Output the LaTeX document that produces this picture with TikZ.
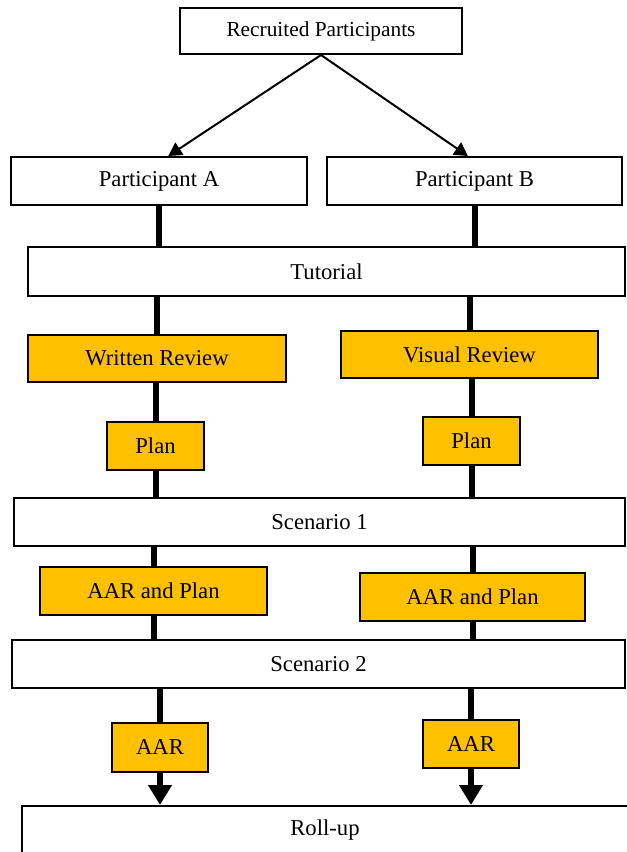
\documentclass[tikz,border=0pt]{standalone}
\usepackage{fontspec}
\setmainfont{Liberation Serif}
\usetikzlibrary{arrows.meta}
\definecolor{gold}{HTML}{FFC000}
\begin{document}
\begin{tikzpicture}[x=0.75pt,y=-0.75pt,
  box/.style={draw,line width=1.5pt,fill=white,minimum height=36pt,font=\fontsize{17}{20}\selectfont},
  ybox/.style={box,fill=gold},
  link/.style={line width=4.5pt},
  split/.style={line width=1.5pt,-{Triangle[width=11pt,length=10pt]}},
  last/.style={line width=4.5pt,-{Triangle[width=17pt,length=15pt]}}]
\useasboundingbox (0,0) rectangle (626,852);
\node[box,minimum width=211.5pt,minimum height=34.5pt,font=\fontsize{16}{19}\selectfont] (rec) at (321,31) {Recruited Participants};
\node[box,minimum width=222pt] (partA) at (159,181) {Participant A};
\node[box,minimum width=221pt] (partB) at (474.5,181) {Participant B};
\node[box,minimum width=448pt,minimum height=37pt] (tut) at (326.5,271.5) {Tutorial};
\node[ybox,minimum width=193.5pt,minimum height=35pt] (revA) at (157,358.5) {Written Review};
\node[ybox,minimum width=193pt,minimum height=35pt] (revB) at (469.5,354.5) {Visual Review};
\node[ybox,minimum width=73pt] (planA) at (155.5,446) {Plan};
\node[ybox,minimum width=73pt] (planB) at (471.5,441) {Plan};
\node[box,minimum width=458pt] (scen1) at (319.5,522) {Scenario 1};
\node[ybox,minimum width=170pt] (aarplanA) at (153.5,591) {AAR and Plan};
\node[ybox,minimum width=169pt] (aarplanB) at (472.5,597) {AAR and Plan};
\node[box,minimum width=460pt] (scen2) at (318.5,664) {Scenario 2};
\node[ybox,minimum width=72pt,minimum height=36.5pt] (aarA) at (160,747.5) {AAR};
\node[ybox,minimum width=72pt] (aarB) at (471,744) {AAR};
\node[box,minimum width=454.5pt] (rollup) at (325,830) {Roll-up};
\draw[split] (rec.south) -- ([xshift=7pt]partA.north);
\draw[split] (rec.south) -- ([xshift=-5pt]partB.north);
\foreach \s in {A,B}{
  \draw[link] (part\s.south) -- (part\s.south |- tut.north);
  \draw[link] (rev\s.north |- tut.south) -- (rev\s.north);
  \draw[link] (plan\s.north |- rev\s.south) -- (plan\s.north);
  \draw[link] (plan\s.south) -- (plan\s.south |- scen1.north);
  \draw[link] (aarplan\s.north |- scen1.south) -- (aarplan\s.north);
  \draw[link] (aarplan\s.south) -- (aarplan\s.south |- scen2.north);
  \draw[link] (aar\s.north |- scen2.south) -- (aar\s.north);
  \draw[last] (aar\s.south) -- (aar\s.south |- rollup.north);
}
\end{tikzpicture}
\end{document}
